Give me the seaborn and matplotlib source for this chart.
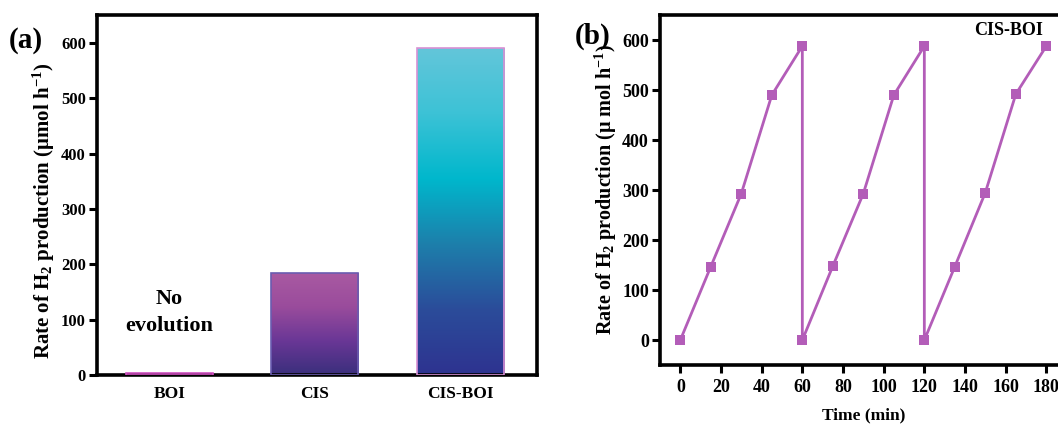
import numpy as np
import pandas as pd
import matplotlib
matplotlib.use("Agg")
import matplotlib.pyplot as plt
from matplotlib.colors import LinearSegmentedColormap
import seaborn as sns

# === data ===
samples = ["BOI", "CIS", "CIS-BOI"]
rates = [3, 185, 590]

time_min = [0, 15, 30, 45, 60, 60, 75, 90, 105, 120, 120, 135, 150, 165, 180]
rate_cycle = [0, 147, 293, 490, 588, 0, 148, 293, 490, 588, 0, 147, 295, 492, 588]

# === style ===
sns.set_theme(style="ticks")
plt.rcParams["font.family"] = ["Liberation Serif", "DejaVu Serif"]
plt.rcParams["font.weight"] = "bold"
plt.rcParams["axes.labelweight"] = "bold"
plt.rcParams["text.color"] = "black"
plt.rcParams["axes.labelcolor"] = "black"
plt.rcParams["xtick.color"] = "black"
plt.rcParams["ytick.color"] = "black"
plt.rcParams["mathtext.fontset"] = "custom"
plt.rcParams["mathtext.rm"] = "Liberation Serif:bold"
plt.rcParams["mathtext.bf"] = "Liberation Serif:bold"
plt.rcParams["mathtext.it"] = "Liberation Serif:bold"
plt.rcParams["mathtext.default"] = "bf"

fig = plt.figure(figsize=(10.58, 4.28), dpi=100)
ax1 = fig.add_axes([0.0917, 0.1238, 0.4159, 0.841])
ax2 = fig.add_axes([0.6238, 0.147, 0.3844, 0.8178])

def style_axes(ax, size):
    for s in ax.spines.values():
        s.set_visible(True)
        s.set_linewidth(2.6)
        s.set_color("black")
    ax.tick_params(axis="both", direction="out", length=6, width=2.2,
                   labelsize=size, colors="black", pad=2,
                   left=True, bottom=True)
    for lab in ax.get_xticklabels() + ax.get_yticklabels():
        lab.set_fontweight("bold")

# === panel (a): bars with gradient fill ===
df = pd.DataFrame({"sample": samples, "rate": rates})
sns.barplot(data=df, x="sample", y="rate", ax=ax1, width=0.6,
            color="white", saturation=1)

grads = [
    ["#b04aa8", "#b04aa8"],
    ["#a95aa2", "#9a4c9c", "#6a3796", "#3a2f7c"],
    ["#63c6da", "#3cc2d6", "#00b7cc", "#1d7fab", "#2b4c9a", "#2e3390"],
]
edges = ["#d050c0", "#6a5cb0", "#d890d4"]
for patch, g, ec in zip(ax1.patches, grads, edges):
    x0, y0 = patch.get_x(), patch.get_y()
    w, h = patch.get_width(), patch.get_height()
    cmap = LinearSegmentedColormap.from_list("g", g[::-1])
    grad = np.linspace(0, 1, 256).reshape(-1, 1)
    im = ax1.imshow(grad, cmap=cmap, origin="lower", aspect="auto",
                    extent=[x0, x0 + w, y0, y0 + h], zorder=2)
    im.set_clip_path(patch)
    patch.set_edgecolor(ec)
    patch.set_linewidth(1.2)
    patch.set_zorder(3)
    patch.set_facecolor("none")

ax1.set_xlim(-0.5, 2.53)
ax1.set_ylim(0, 650)
ax1.set_yticks([0, 100, 200, 300, 400, 500, 600])
ax1.set_xlabel("")
ax1.set_ylabel(r"Rate of H$_2$ production ($\mathrm{\mu}$mol h$^{-1}$)",
               fontsize=15, fontweight="bold")
ax1.yaxis.set_label_coords(-0.09, 0.455)
style_axes(ax1, 12)
ax1.tick_params(axis="x", length=0, pad=8, labelsize=12.5)
ax1.text(0, 137, "No", ha="center", va="center", fontsize=16, fontweight="bold")
ax1.text(0, 88, "evolution", ha="center", va="center", fontsize=16, fontweight="bold")
fig.text(0.008, 0.905, "(a)", fontsize=21, fontweight="bold", ha="left", va="center")

# === panel (b): cycling test ===
sns.lineplot(x=time_min, y=rate_cycle, ax=ax2, sort=False, color="#b35db8",
             linewidth=2, marker="s", markersize=7, markeredgewidth=0,
             estimator=None)
ax2.set_xlim(-10, 190)
ax2.set_ylim(-50, 650)
ax2.set_xticks(range(0, 181, 20))
ax2.set_yticks([0, 100, 200, 300, 400, 500, 600])
ax2.set_xlabel("Time (min)", fontsize=12.5, fontweight="bold", labelpad=8)
ax2.set_ylabel(r"Rate of H$_2$ production ($\mathrm{\mu}$ mol h$^{-1}$)",
               fontsize=14.5, fontweight="bold", labelpad=2)
style_axes(ax2, 13)
ax2.tick_params(axis="x", pad=4)
ax2.text(0.858, 0.957, "CIS-BOI", transform=ax2.transAxes, fontsize=13,
         fontweight="bold", ha="center", va="center")
fig.text(0.543, 0.915, "(b)", fontsize=21, fontweight="bold", ha="left", va="center")

fig.savefig("out.png", dpi=100)
